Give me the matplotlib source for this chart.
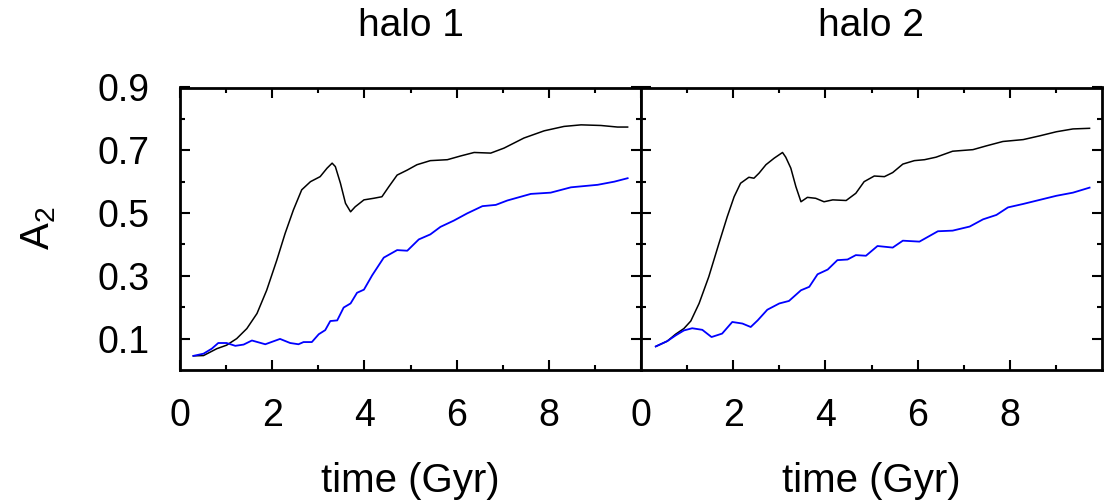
import numpy as np
import matplotlib
matplotlib.use('Agg')
import matplotlib.pyplot as plt

plt.rcParams['font.family'] = ['Liberation Sans', 'DejaVu Sans']
plt.rcParams['mathtext.default'] = 'regular'

# halo 1 -- black (upper) curve
t1_black = [0.29, 0.51, 0.80, 1.01, 1.23, 1.45, 1.67, 1.88, 2.10, 2.28, 2.46, 2.64,
            2.83, 3.04, 3.19, 3.30, 3.37, 3.48, 3.59, 3.70, 3.80, 3.99, 4.20, 4.38,
            4.53, 4.71, 4.93, 5.14, 5.43, 5.80, 6.09, 6.38, 6.74, 7.03, 7.46, 7.90,
            8.33, 8.70, 9.13, 9.49, 9.71]
a1_black = [0.045, 0.046, 0.068, 0.079, 0.100, 0.132, 0.180, 0.254, 0.350, 0.435, 0.510, 0.574,
            0.600, 0.616, 0.643, 0.659, 0.648, 0.595, 0.531, 0.504, 0.520, 0.542, 0.547, 0.552,
            0.584, 0.621, 0.637, 0.654, 0.667, 0.670, 0.682, 0.693, 0.691, 0.707, 0.739, 0.762,
            0.776, 0.781, 0.779, 0.774, 0.774]

# halo 1 -- blue (lower) curve
t1_blue = [0.29, 0.51, 0.69, 0.83, 1.01, 1.20, 1.38, 1.56, 1.85, 2.17, 2.39, 2.57,
           2.68, 2.86, 3.01, 3.15, 3.26, 3.41, 3.55, 3.70, 3.84, 3.99, 4.17, 4.42,
           4.71, 4.93, 5.18, 5.43, 5.65, 5.94, 6.23, 6.56, 6.85, 7.10, 7.61, 8.04,
           8.48, 9.06, 9.42, 9.71]
a1_blue = [0.045, 0.052, 0.068, 0.086, 0.086, 0.077, 0.081, 0.094, 0.082, 0.099, 0.086, 0.082,
           0.089, 0.089, 0.114, 0.127, 0.156, 0.158, 0.199, 0.212, 0.246, 0.256, 0.302, 0.358,
           0.382, 0.380, 0.416, 0.432, 0.456, 0.476, 0.499, 0.522, 0.526, 0.540, 0.561, 0.565,
           0.582, 0.590, 0.600, 0.611]

# halo 2 -- black curve
t2_black = [0.32, 0.57, 0.75, 0.93, 1.08, 1.26, 1.47, 1.69, 1.87, 2.02, 2.16, 2.34,
            2.45, 2.56, 2.71, 2.89, 3.07, 3.14, 3.25, 3.36, 3.47, 3.61, 3.79, 3.97,
            4.16, 4.45, 4.66, 4.84, 5.06, 5.28, 5.46, 5.68, 5.93, 6.15, 6.40, 6.76,
            7.20, 7.49, 7.85, 8.29, 8.65, 9.01, 9.37, 9.73]
a2_black = [0.075, 0.092, 0.114, 0.132, 0.156, 0.212, 0.297, 0.403, 0.488, 0.552, 0.595, 0.614,
            0.611, 0.627, 0.654, 0.675, 0.693, 0.678, 0.643, 0.584, 0.536, 0.550, 0.547, 0.536,
            0.542, 0.540, 0.563, 0.600, 0.618, 0.616, 0.629, 0.656, 0.667, 0.670, 0.678, 0.697,
            0.702, 0.714, 0.728, 0.734, 0.746, 0.759, 0.768, 0.770]

# halo 2 -- blue curve
t2_blue = [0.32, 0.57, 0.75, 0.93, 1.11, 1.33, 1.53, 1.76, 1.98, 2.20, 2.38, 2.53,
           2.74, 3.00, 3.21, 3.47, 3.65, 3.83, 4.05, 4.26, 4.48, 4.66, 4.88, 5.13,
           5.46, 5.68, 6.04, 6.44, 6.76, 7.13, 7.42, 7.71, 7.96, 8.29, 8.65, 9.01,
           9.37, 9.73]
a2_blue = [0.075, 0.092, 0.110, 0.126, 0.133, 0.128, 0.105, 0.116, 0.153, 0.148, 0.137, 0.158,
           0.192, 0.212, 0.220, 0.254, 0.265, 0.305, 0.320, 0.350, 0.352, 0.366, 0.364, 0.395,
           0.390, 0.412, 0.409, 0.442, 0.444, 0.457, 0.480, 0.494, 0.518, 0.529, 0.542, 0.555,
           0.565, 0.581]

titles = ['halo 1', 'halo 2']
ytick_vals = [0.1, 0.3, 0.5, 0.7, 0.9]

W, H = 1107, 504
fig = plt.figure(figsize=(W / 100, H / 100), dpi=100)

panels = [(t1_black, a1_black, t1_blue, a1_blue),
          (t2_black, a2_black, t2_blue, a2_blue)]
lefts = [180, 641]

for i, (tb, ab, tu, au) in enumerate(panels):
    ax = fig.add_axes([lefts[i] / W, 1 - 370 / H, 461 / W, 282.5 / H])
    ax.plot(tb, ab, color='black', lw=1.1)
    ax.plot(tu, au, color='#0000ff', lw=1.3)
    ax.set_xlim(0, 10)
    ax.set_ylim(0, 0.9)
    ax.set_xticks([0, 2, 4, 6, 8])
    ax.set_xticks([1, 3, 5, 7, 9], minor=True)
    ax.set_yticks(ytick_vals)
    ax.set_yticks([0.2, 0.4, 0.6, 0.8], minor=True)
    ax.tick_params(which='both', direction='in', top=True, right=True,
                   labelsize=27, width=1.5)
    ax.tick_params(which='major', length=7)
    ax.tick_params(which='minor', length=3.5)
    ax.tick_params(axis='x', pad=20)
    ax.tick_params(axis='y', pad=22)
    for s in ax.spines.values():
        s.set_linewidth(2)
    ax.set_title(titles[i], fontsize=28, pad=37)
    ax.set_xlabel('time (Gyr)', fontsize=29, labelpad=20)
    if i == 0:
        ax.set_ylabel('A$_2$', fontsize=29, labelpad=28)
    else:
        ax.tick_params(labelleft=False)

fig.savefig('out.png', dpi=100)
